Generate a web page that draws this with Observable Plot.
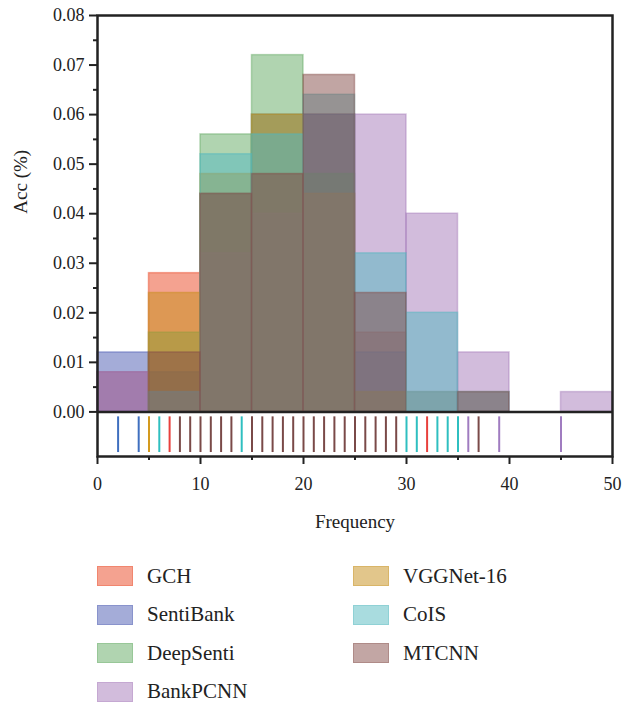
<!DOCTYPE html>
<html>
<head>
<meta charset="utf-8">
<script src="https://cdn.jsdelivr.net/npm/d3@7"></script>
<script src="https://cdn.jsdelivr.net/npm/@observablehq/plot@0.6"></script>
<style>
  body { margin: 0; background: #fff; font-family: "Liberation Serif", "DejaVu Serif", serif; }
  #legend { position: relative; width: 622px; height: 150px; margin-top: 12px; }
  .item { position: absolute; height: 38px; display: flex; align-items: center; font-size: 21px; color: #222; }
  .sw { width: 34px; height: 18px; margin-right: 14px; box-sizing: content-box; }
</style>
</head>
<body>
<div id="chart"></div>
<div id="legend"></div>
<script>
// ---- data ----
const seriesNames = ["GCH", "SentiBank", "DeepSenti", "BankPCNN", "VGGNet-16", "CoIS", "MTCNN"];
const seriesColors = ["#e94521", "#4959b1", "#61a961", "#a579b9", "#c58d17", "#52b8bf", "#844c48"];
const rugColors = ["#e8403c", "#3f6fbf", "#3fae5a", "#a07cc0", "#d49a1e", "#2fbfc0", "#7a4a48"];
const binEdges = [0, 5, 10, 15, 20, 25, 30, 35, 40, 45, 50];
// density per bin (0-5, 5-10, ..., 45-50)
const gch       = [0.008, 0.028, 0.044, 0.048, 0.060, 0.016, 0.004, 0, 0, 0];
const sentiBank = [0.012, 0.008, 0.044, 0.060, 0.060, 0.012, 0, 0, 0, 0];
const deepSenti = [0, 0.016, 0.056, 0.072, 0.048, 0, 0.004, 0, 0, 0];
const bankPCNN  = [0.008, 0.004, 0.032, 0.040, 0.044, 0.060, 0.040, 0.012, 0, 0.004];
const vggNet16  = [0, 0.024, 0.048, 0.060, 0.044, 0.004, 0, 0, 0, 0];
const coIS      = [0, 0.004, 0.052, 0.056, 0.064, 0.032, 0.020, 0.004, 0, 0];
const mtcnn     = [0, 0.012, 0.044, 0.048, 0.068, 0.024, 0, 0.004, 0, 0];
// rug (visible individual observations)
const rugValues = [2, 4, 5, 6, 7, 8, 9, 10, 11, 12, 13, 14, 15, 16, 17, 18, 19, 20, 21, 22, 23, 24, 25, 26, 27, 28, 29, 30, 31, 32, 33, 34, 35, 36, 37, 39, 45];
const rugSeries = ["SentiBank", "SentiBank", "VGGNet-16", "CoIS", "GCH", "MTCNN", "MTCNN", "MTCNN", "MTCNN", "MTCNN", "MTCNN", "CoIS",
  "MTCNN", "MTCNN", "MTCNN", "MTCNN", "MTCNN", "MTCNN", "MTCNN", "MTCNN", "MTCNN", "MTCNN", "MTCNN", "MTCNN", "MTCNN", "MTCNN", "MTCNN",
  "CoIS", "CoIS", "GCH", "CoIS", "CoIS", "CoIS", "BankPCNN", "MTCNN", "BankPCNN", "BankPCNN"];
const xTicks = [0, 10, 20, 30, 40, 50];
const xMinor = [5, 15, 25, 35, 45];
const yTicks = [0, 0.01, 0.02, 0.03, 0.04, 0.05, 0.06, 0.07, 0.08];
const yMinor = [0.005, 0.015, 0.025, 0.035, 0.045, 0.055, 0.065, 0.075];
const xLabel = "Frequency";
const yLabel = "Acc (%)";

// ---- build table (drawn in legend order) ----
const seriesValues = [gch, sentiBank, deepSenti, bankPCNN, vggNet16, coIS, mtcnn];
const bars = [];
seriesNames.forEach((s, k) => {
  seriesValues[k].forEach((v, i) => {
    if (v > 0) bars.push({series: s, x1: binEdges[i], x2: binEdges[i + 1], y: v});
  });
});
const rug = rugValues.map((v, i) => ({v, series: rugSeries[i]}));
const rugColorOf = Object.fromEntries(seriesNames.map((s, i) => [s, rugColors[i]]));

const ink = "#222";
const chart = Plot.plot({
  width: 622,
  height: 545,
  marginLeft: 97,
  marginRight: 10,
  marginTop: 15,
  marginBottom: 89,
  style: {fontFamily: "Liberation Serif, DejaVu Serif, serif", fontSize: "18px", color: ink, background: "#fff"},
  x: {domain: [0, 50]},
  y: {domain: [-0.009, 0.08]},
  color: {domain: seriesNames, range: seriesColors},
  marks: [
    Plot.rect(bars, {x1: "x1", x2: "x2", y1: 0, y2: "y", fill: "series", fillOpacity: 0.5,
      stroke: "series", strokeOpacity: 0.45, strokeWidth: 1.5}),
    Plot.ruleX(rug, {x: "v", y1: -0.001, y2: -0.0082, stroke: d => rugColorOf[d.series], strokeWidth: 2}),
    Plot.ruleY([0], {stroke: ink, strokeWidth: 2.5}),
    Plot.frame({stroke: ink, strokeWidth: 2.5}),
    Plot.axisX(xTicks, {tickSize: 8, tickPadding: 13, strokeWidth: 2, stroke: ink, label: null, fill: ink}),
    Plot.axisX(xMinor, {tickSize: 4, tickFormat: () => "", strokeWidth: 2, stroke: ink, label: null}),
    Plot.axisY(yTicks, {tickSize: 8, tickPadding: 5, strokeWidth: 2, stroke: ink, label: null, tickFormat: d3.format(".2f"), fill: ink}),
    Plot.axisY(yMinor, {tickSize: 4, tickFormat: () => "", strokeWidth: 2, stroke: ink, label: null}),
    Plot.text([xLabel], {frameAnchor: "bottom", dy: 71, fontSize: 19, fill: ink}),
    Plot.text([yLabel], {frameAnchor: "left", y: () => 0.04, dx: -77, rotate: -90, fontSize: 19, fill: ink})
  ]
});
document.getElementById("chart").appendChild(chart);

// ---- legend ----
const legend = document.getElementById("legend");
const cols = [["GCH", "SentiBank", "DeepSenti", "BankPCNN"], ["VGGNet-16", "CoIS", "MTCNN"]];
const colX = [97, 353];
cols.forEach((col, c) => {
  col.forEach((name, r) => {
    const color = seriesColors[seriesNames.indexOf(name)];
    const rgb = d3.rgb(color);
    const mix = (a) => d3.rgb(255 + (rgb.r - 255) * a, 255 + (rgb.g - 255) * a, 255 + (rgb.b - 255) * a).formatHex();
    const item = document.createElement("div");
    item.className = "item";
    item.style.left = colX[c] + "px";
    item.style.top = (r * 38.5) + "px";
    const sw = document.createElement("div");
    sw.className = "sw";
    sw.style.background = mix(0.5);
    sw.style.border = "1px solid " + mix(0.65);
    item.appendChild(sw);
    const t = document.createElement("span");
    t.textContent = name;
    item.appendChild(t);
    legend.appendChild(item);
  });
});
</script>
</body>
</html>
